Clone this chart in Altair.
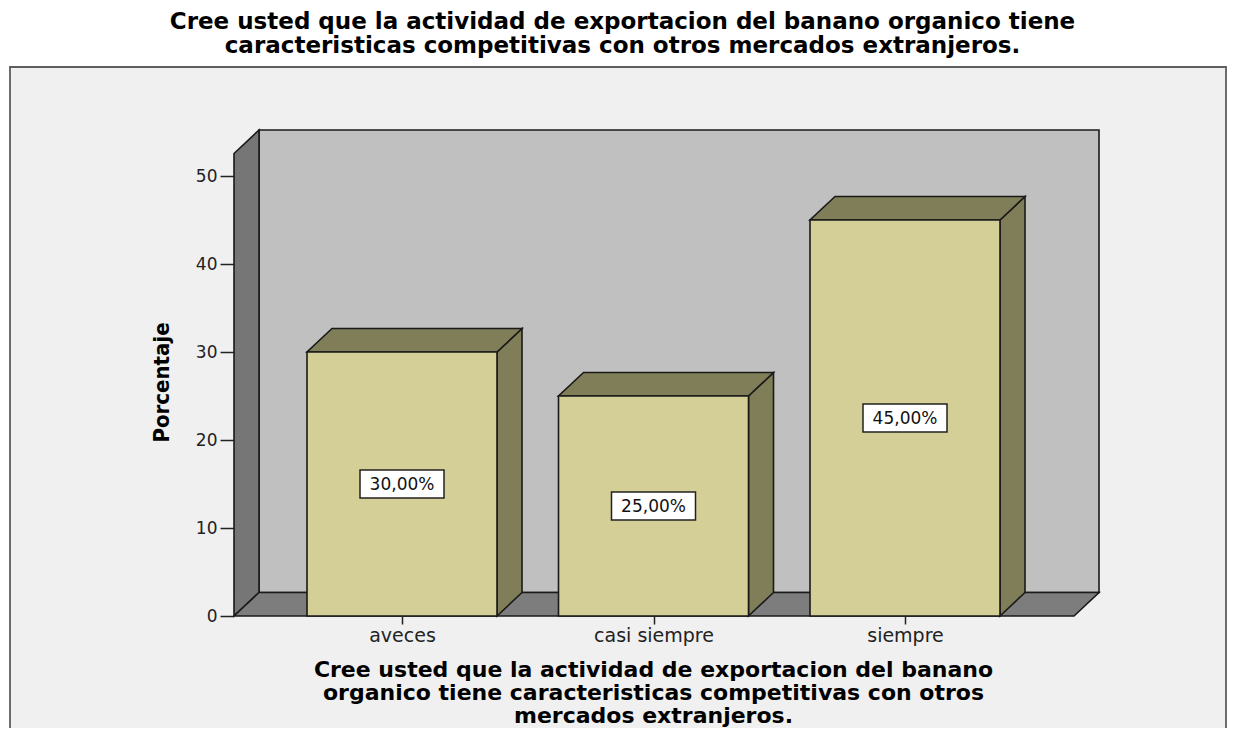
import altair as alt
import pandas as pd

# ---------------- data ----------------
CATEGORIES = ["aveces", "casi siempre", "siempre"]
PERCENTS = [30.0, 25.0, 45.0]
PCT_LABELS = ["30,00%", "25,00%", "45,00%"]
Y_TICKS = [0, 10, 20, 30, 40, 50]
TITLE_LINES = [
    "Cree usted que la actividad de exportacion del banano organico tiene",
    "caracteristicas competitivas con otros mercados extranjeros.",
]
X_TITLE_LINES = [
    "Cree usted que la actividad de exportacion del banano",
    "organico tiene caracteristicas competitivas con otros",
    "mercados extranjeros.",
]

# ---------------- style / geometry constants ----------------
W, H = 865, 486                 # plot area in px
PX_PER_CAT = 251.5              # px between category centres
FIRST_CENTER_PX = 168           # px from plot left to first category centre
PX_PER_UNIT_Y = 8.8             # px per percentage point
X0 = 1 - FIRST_CENTER_PX / PX_PER_CAT
X1 = X0 + W / PX_PER_CAT
Y1 = H / PX_PER_UNIT_Y
DX = 25 / PX_PER_CAT            # 3D depth (x, data units)
DY = 23.5 / PX_PER_UNIT_Y       # 3D depth (y, data units)
HALF = 95 / PX_PER_CAT          # half bar width (data units)

FRONT = "#d3cf97"
SHADE = "#807e58"
BACK_WALL = "#c0c0c0"
SIDE_WALL = "#767676"
FLOOR = "#7d7d7d"
PANEL_BG = "#f0f0f0"
EDGE = "#1a1a1a"
SW = 1.6

pos = [i + 1 for i in range(len(CATEGORIES))]
bars = pd.DataFrame({"cat": CATEGORIES, "pos": pos, "val": PERCENTS, "lab": PCT_LABELS})
bars["xl"] = bars["pos"] - HALF
bars["xr"] = bars["pos"] + HALF
bars["y0"] = 0.0
bars["mid"] = bars["val"] / 2

xs = alt.Scale(domain=[X0, X1], nice=False, zero=False)
ys = alt.Scale(domain=[0, Y1], nice=False, zero=False)

label_expr = "[" + ",".join("'" + c + "'" for c in CATEGORIES) + "][datum.value - 1]"

X_AXIS = alt.Axis(
    values=pos, labelExpr=label_expr, title=X_TITLE_LINES,
    tickSize=8, tickWidth=1.5, tickColor="#222", domain=False, grid=False,
    labelFont="DejaVu Sans", labelFontSize=19, labelColor="#222", labelPadding=2,
    titleFont="DejaVu Sans", titleFontSize=22, titleFontWeight="bold",
    titleColor="black", titleLineHeight=23,
    titleX=419, titleY=43, titleAlign="center", titleBaseline="top",
    zindex=2,
)
Y_AXIS = alt.Axis(
    values=Y_TICKS, title="Porcentaje", tickSize=14, tickWidth=1.5,
    tickColor="#222", domain=False, grid=False,
    labelFont="DejaVu Sans", labelFontSize=17, labelColor="#222", labelPadding=3,
    titleFont="Liberation Sans Narrow, DejaVu Sans Condensed, DejaVu Sans",
    titleFontSize=22, titleFontWeight="bold", titleColor="black",
    titleAngle=270, titleX=-73, titleY=252,
    titleAlign="center", titleBaseline="middle", zindex=2,
)

# ---------------- outer panel frame ----------------
frame = alt.Chart(pd.DataFrame({"k": [0]})).mark_rect(
    fill=PANEL_BG, stroke="#5e5e5e", strokeWidth=1.8
).encode(
    x=alt.value(-224), x2=alt.value(992), y=alt.value(-63), y2=alt.value(700)
)

# ---------------- walls ----------------
back_df = pd.DataFrame({"x": [X0 + DX], "x2": [X1], "y": [DY], "y2": [Y1]})
back = alt.Chart(back_df).mark_rect(fill=BACK_WALL, stroke=EDGE, strokeWidth=SW).encode(
    x=alt.X("x:Q", scale=xs, axis=X_AXIS),
    x2="x2:Q",
    y=alt.Y("y:Q", scale=ys, axis=Y_AXIS),
    y2="y2:Q",
)

left_df = pd.DataFrame({"x": [X0, X0 + DX], "y": [0.0, DY], "y2": [Y1 - DY, Y1], "k": ["w", "w"]})
left_wall = alt.Chart(left_df).mark_area(
    fill=SIDE_WALL, stroke=EDGE, strokeWidth=SW, opacity=1
).encode(
    x=alt.X("x:Q", scale=xs, axis=X_AXIS),
    y=alt.Y("y:Q", scale=ys, axis=Y_AXIS, stack=False),
    y2="y2:Q",
    detail="k:N",
)

floor_df = pd.DataFrame({"y": [0.0, DY], "x": [X0, X0 + DX], "x2": [X1 - DX, X1], "k": ["f", "f"]})
floor = alt.Chart(floor_df).mark_area(
    orient="horizontal", fill=FLOOR, stroke=EDGE, strokeWidth=SW, opacity=1
).encode(
    y=alt.Y("y:Q", scale=ys, axis=Y_AXIS),
    x=alt.X("x:Q", scale=xs, axis=X_AXIS, stack=False),
    x2="x2:Q",
    detail="k:N",
)

# ---------------- bars: side faces, top faces, fronts ----------------
side_rows = []
top_rows = []
for _, r in bars.iterrows():
    side_rows.append({"cat": r["cat"], "x": r["xr"], "y": 0.0, "y2": r["val"]})
    side_rows.append({"cat": r["cat"], "x": r["xr"] + DX, "y": DY, "y2": r["val"] + DY})
    top_rows.append({"cat": r["cat"], "y": r["val"], "x": r["xl"], "x2": r["xr"]})
    top_rows.append({"cat": r["cat"], "y": r["val"] + DY, "x": r["xl"] + DX, "x2": r["xr"] + DX})
side_df = pd.DataFrame(side_rows)
top_df = pd.DataFrame(top_rows)

sides = alt.Chart(side_df).mark_area(
    fill=SHADE, stroke=EDGE, strokeWidth=SW, opacity=1
).encode(
    x=alt.X("x:Q", scale=xs, axis=X_AXIS),
    y=alt.Y("y:Q", scale=ys, axis=Y_AXIS, stack=False),
    y2="y2:Q",
    detail="cat:N",
)

tops = alt.Chart(top_df).mark_area(
    orient="horizontal", fill=SHADE, stroke=EDGE, strokeWidth=SW, opacity=1
).encode(
    y=alt.Y("y:Q", scale=ys, axis=Y_AXIS),
    x=alt.X("x:Q", scale=xs, axis=X_AXIS, stack=False),
    x2="x2:Q",
    detail="cat:N",
)

fronts = alt.Chart(bars).mark_rect(fill=FRONT, stroke=EDGE, strokeWidth=SW).encode(
    x=alt.X("xl:Q", scale=xs, axis=X_AXIS),
    x2="xr:Q",
    y=alt.Y("y0:Q", scale=ys, axis=Y_AXIS),
    y2="val:Q",
)

boxes = alt.Chart(bars).mark_rect(
    fill="white", stroke="#222", strokeWidth=1.5,
    xOffset=-42, x2Offset=42, yOffset=-14, y2Offset=14,
).encode(
    x=alt.X("pos:Q", scale=xs, axis=X_AXIS),
    x2="pos:Q",
    y=alt.Y("mid:Q", scale=ys, axis=Y_AXIS),
    y2="mid:Q",
)

texts = alt.Chart(bars).mark_text(
    font="DejaVu Sans", fontSize=17, color="#111", align="center", baseline="middle", dy=1
).encode(
    x=alt.X("pos:Q", scale=xs, axis=X_AXIS),
    y=alt.Y("mid:Q", scale=ys, axis=Y_AXIS),
    text="lab:N",
)

chart = alt.layer(
    frame, back, left_wall, floor, sides, tops, fronts, boxes, texts
).properties(
    width=W,
    height=H,
    title=alt.TitleParams(
        text=TITLE_LINES, font="DejaVu Sans", fontSize=23, fontWeight="bold",
        color="black", anchor="middle", dx=-44, offset=8, lineHeight=24.5, frame="group",
    ),
    autosize=alt.AutoSizeParams(type="none"),
    padding={"left": 226, "top": 122, "right": 128, "bottom": 112},
    background="white",
).configure_view(stroke="transparent")

chart.save("out.html", embed_options={"renderer": "svg", "actions": False})
